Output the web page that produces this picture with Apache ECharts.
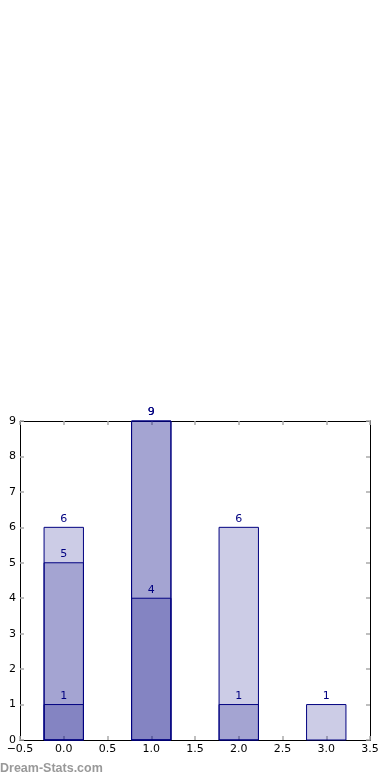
<!DOCTYPE html>
<html>
<head>
<meta charset="utf-8">
<script src="https://cdn.jsdelivr.net/npm/echarts@6/dist/echarts.min.js"></script>
<style>html,body{margin:0;padding:0;background:#fff}#c{width:390px;height:780px}</style>
</head>
<body>
<div id="c"></div>
<script>
var positions = [0, 1, 2, 3];
var backValues = [6, 9, 6, 1];
var midValues = [5, 9, 1, 0];
var frontValues = [1, 4, 0, 0];
var xTicks = [-0.5, 0.0, 0.5, 1.0, 1.5, 2.0, 2.5, 3.0, 3.5];
var yTicks = [0, 1, 2, 3, 4, 5, 6, 7, 8, 9];
var barWidthUnits = 0.45;

var chart = echarts.init(document.getElementById('c'));
function mkData(vals) {
  var d = [];
  for (var i = 0; i < positions.length; i++) if (vals[i] > 0) d.push([positions[i], vals[i]]);
  return d;
}
function renderBar(params, api) {
  var x = api.value(0), v = api.value(1);
  var p0 = api.coord([x - barWidthUnits / 2, v]);
  var p1 = api.coord([x + barWidthUnits / 2, 0]);
  return {
    type: 'group',
    children: [
      { type: 'rect', shape: { x: p0[0], y: p0[1], width: p1[0] - p0[0], height: p1[1] - p0[1] },
        style: { fill: 'rgba(0,0,128,0.2)', stroke: '#000080', lineWidth: 1 } },
      { type: 'text', x: (p0[0] + p1[0]) / 2, y: p0[1] - 3,
        style: { text: String(v), align: 'center', verticalAlign: 'bottom', fill: '#000080',
          font: '11px "DejaVu Sans"' } }
    ]
  };
}
function fmtX(v) { var s = v.toFixed(1); return s.replace('-', '\u2212'); }
var tickStyle = { show: true, inside: true, length: 4, lineStyle: { color: '#aaa', width: 1.5 } };
var lineStyle = { show: true, onZero: false, lineStyle: { color: '#000', width: 1 } };
var labelFont = { fontFamily: 'DejaVu Sans', fontSize: 11, color: '#000' };
chart.setOption({
  animation: false,
  grid: { left: 20, right: 20, top: 421, bottom: 40 },
  xAxis: [
    { type: 'value', min: -0.5, max: 3.5, interval: 0.5, position: 'bottom',
      axisLine: lineStyle, axisTick: tickStyle, splitLine: { show: false },
      axisLabel: Object.assign({ formatter: fmtX, margin: 4, showMinLabel: true, showMaxLabel: true }, labelFont) },
    { type: 'value', min: -0.5, max: 3.5, interval: 0.5, position: 'top',
      axisLine: lineStyle, axisTick: tickStyle, splitLine: { show: false }, axisLabel: { show: false } }
  ],
  yAxis: [
    { type: 'value', min: 0, max: 9, interval: 1, position: 'left',
      axisLine: lineStyle, axisTick: tickStyle, splitLine: { show: false },
      axisLabel: Object.assign({ margin: 4 }, labelFont) },
    { type: 'value', min: 0, max: 9, interval: 1, position: 'right',
      axisLine: lineStyle, axisTick: tickStyle, splitLine: { show: false }, axisLabel: { show: false } }
  ],
  series: [
    { type: 'custom', renderItem: renderBar, data: mkData(backValues), clip: false },
    { type: 'custom', renderItem: renderBar, data: mkData(midValues), clip: false },
    { type: 'custom', renderItem: renderBar, data: mkData(frontValues), clip: false }
  ],
  graphic: [
    { type: 'text', left: 0, top: 762, style: { text: 'Dream-Stats.com', fill: '#999',
      font: 'bold 12.5px "Liberation Sans"' } }
  ]
});
</script>
</body>
</html>
